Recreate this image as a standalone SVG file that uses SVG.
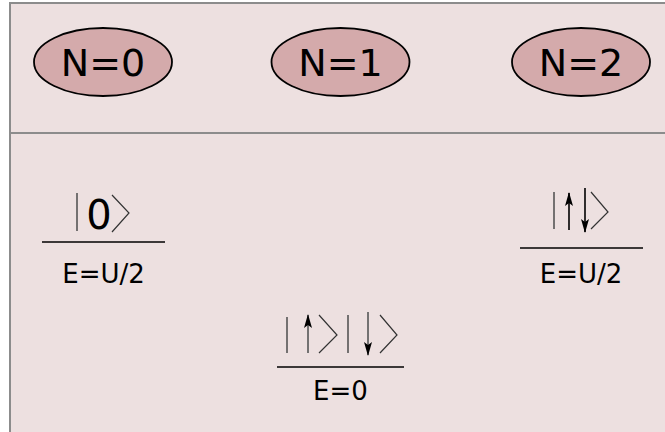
<svg xmlns="http://www.w3.org/2000/svg" width="665" height="432" viewBox="0 0 665 432">
<defs>
<style>
.bg{fill:#ede0e0;stroke:#8c8c8c;stroke-width:2}
.sep{stroke:#8c8c8c;stroke-width:2}
.node ellipse{fill:#d4aaab;stroke:#000;stroke-width:1.8}
.lbl{font-family:"DejaVu Sans",sans-serif;font-size:38px;fill:#000;text-anchor:middle}
.en{font-family:"DejaVu Sans",sans-serif;font-size:26px;fill:#000;text-anchor:middle}
.ket{font-family:"DejaVu Sans",sans-serif;font-size:40px;fill:#000;text-anchor:middle}
.lvl{stroke:#000;stroke-width:1.6}
.bar{stroke:#555;stroke-width:1.6;fill:none}
.br{stroke:#333;stroke-width:1.2;fill:none}
.arr{stroke:#000;stroke-width:1.6}
.arrg{stroke:#666;stroke-width:1.8}
</style>
<marker id="ah" viewBox="0 0 14 8" refX="13" refY="4" markerWidth="14" markerHeight="8" markerUnits="userSpaceOnUse" orient="auto"><path d="M0,0 L14,4 L0,8 L3,4 z" fill="#000"/></marker>
</defs>
<rect class="bg" x="10" y="3" width="670" height="440"/>
<line class="sep" x1="10" y1="133" x2="665" y2="133"/>
<g id="n0" class="node"><ellipse cx="103" cy="62" rx="69" ry="34"/><text class="lbl" x="103" y="75.5">N=0</text></g>
<g id="n1" class="node"><ellipse cx="340.5" cy="62" rx="69" ry="34"/><text class="lbl" x="340.5" y="75.5">N=1</text></g>
<g id="n2" class="node"><ellipse cx="581" cy="62" rx="69" ry="34"/><text class="lbl" x="581" y="75.5">N=2</text></g>
<g id="s0">
<line class="bar" x1="77" y1="193" x2="77" y2="231"/>
<text class="ket" x="99" y="229">0</text>
<polyline class="br" points="112,195 129,213 112,232"/>
<line class="lvl" x1="42" y1="242" x2="165" y2="242"/>
<text class="en" x="103.5" y="283">E=U/2</text>
</g>
<g id="s1">
<line class="bar" x1="287" y1="317" x2="287" y2="353"/>
<line class="arrg" x1="308" y1="353" x2="308" y2="315" marker-end="url(#ah)"/>
<polyline class="br" points="319,315 337,335 319,353"/>
<line class="bar" x1="348" y1="315" x2="348" y2="353"/>
<line class="arrg" x1="368" y1="312" x2="368" y2="355" marker-end="url(#ah)"/>
<polyline class="br" points="380,315 397,335 380,353"/>
<line class="lvl" x1="277" y1="367" x2="404" y2="367"/>
<text class="en" x="340.5" y="400">E=0</text>
</g>
<g id="s2">
<line class="bar" x1="554" y1="192" x2="554" y2="229"/>
<line class="arr" x1="569" y1="230" x2="569" y2="193" marker-end="url(#ah)"/>
<line class="arr" x1="585" y1="188" x2="585" y2="232" marker-end="url(#ah)"/>
<polyline class="br" points="591,192 608,212 591,229"/>
<line class="lvl" x1="520" y1="248" x2="643" y2="248"/>
<text class="en" x="581" y="283">E=U/2</text>
</g>
</svg>
